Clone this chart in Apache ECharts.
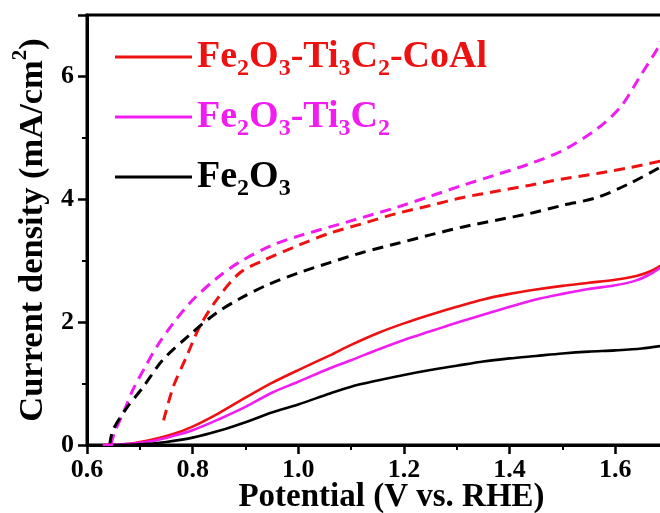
<!DOCTYPE html>
<html>
<head>
<meta charset="utf-8">
<script src="https://cdn.jsdelivr.net/npm/echarts@6/dist/echarts.min.js"></script>
<style>
    html, body { margin: 0; padding: 0; background: #fff; }
    #chartBox { width: 660px; height: 513px; }
</style>
</head>
<body>
<div id="chartBox"></div>
<script>
// potential (V vs. RHE) / current density (mA/cm2) pairs
var coalLight = [[0.63, 0], [0.68, 0.02], [0.72, 0.08], [0.76, 0.17], [0.8, 0.3], [0.85, 0.52], [0.9, 0.77], [0.95, 1.01],
    [1.0, 1.22], [1.06, 1.46], [1.1, 1.63], [1.15, 1.82], [1.2, 1.98], [1.25, 2.12], [1.3, 2.25], [1.35, 2.37],
    [1.4, 2.46], [1.45, 2.53], [1.5, 2.59], [1.55, 2.64], [1.6, 2.69], [1.64, 2.75], [1.67, 2.84], [1.7, 3.0]];
var ti3c2Light = [[0.63, 0], [0.68, 0.02], [0.72, 0.06], [0.76, 0.14], [0.8, 0.24], [0.85, 0.42], [0.9, 0.62], [0.95, 0.85],
    [1.0, 1.03], [1.06, 1.25], [1.1, 1.38], [1.15, 1.55], [1.2, 1.71], [1.25, 1.85], [1.3, 1.99], [1.35, 2.12],
    [1.4, 2.25], [1.45, 2.37], [1.5, 2.46], [1.55, 2.54], [1.6, 2.6], [1.64, 2.68], [1.67, 2.8], [1.7, 2.97]];
var fe2o3Light = [[0.65, 0], [0.7, 0.01], [0.75, 0.05], [0.8, 0.12], [0.85, 0.23], [0.9, 0.37], [0.95, 0.53], [1.0, 0.66],
    [1.06, 0.84], [1.1, 0.95], [1.15, 1.05], [1.2, 1.14], [1.25, 1.22], [1.3, 1.29], [1.35, 1.36], [1.4, 1.41],
    [1.45, 1.45], [1.5, 1.49], [1.55, 1.52], [1.6, 1.54], [1.65, 1.57], [1.7, 1.63]];
var coalDashed = [[0.745, 0.4], [0.763, 0.94], [0.788, 1.43], [0.813, 1.92], [0.845, 2.36], [0.889, 2.8], [0.933, 3.0],
    [1.0, 3.25], [1.06, 3.45], [1.12, 3.6], [1.187, 3.77], [1.25, 3.9], [1.312, 4.03], [1.375, 4.13], [1.439, 4.23],
    [1.5, 4.33], [1.566, 4.42], [1.63, 4.52], [1.7, 4.65]];
var ti3c2Dashed = [[0.645, 0], [0.652, 0.2], [0.67, 0.55], [0.687, 0.9], [0.71, 1.27], [0.732, 1.6], [0.763, 1.98],
    [0.8, 2.36], [0.845, 2.71], [0.889, 2.98], [0.95, 3.25], [1.0, 3.4], [1.06, 3.55], [1.12, 3.7], [1.187, 3.87],
    [1.25, 4.05], [1.312, 4.23], [1.375, 4.4], [1.439, 4.58], [1.502, 4.8], [1.566, 5.15], [1.61, 5.5],
    [1.647, 6.0], [1.685, 6.53], [1.7, 6.85]];
var fe2o3Dashed = [[0.643, 0], [0.649, 0.24], [0.675, 0.6], [0.706, 0.94], [0.743, 1.38], [0.794, 1.79], [0.845, 2.15],
    [0.889, 2.38], [0.94, 2.6], [1.0, 2.8], [1.06, 2.97], [1.12, 3.13], [1.187, 3.28], [1.25, 3.42], [1.312, 3.55],
    [1.375, 3.66], [1.439, 3.77], [1.5, 3.9], [1.566, 4.03], [1.628, 4.26], [1.685, 4.52], [1.7, 4.6]];

var names = ['Fe2O3-Ti3C2-CoAl', 'Fe2O3-Ti3C2', 'Fe2O3'];
var legendLabels = [
    '{n|Fe}{s|2}{n|O}{s|3}{n|-Ti}{s|3}{n|C}{s|2}{n|-CoAl}',
    '{n|Fe}{s|2}{n|O}{s|3}{n|-Ti}{s|3}{n|C}{s|2}',
    '{n|Fe}{s|2}{n|O}{s|3}'
];
var colors = ['#ee1111', '#f01cf0', '#000000'];

var FONT = '"Liberation Serif", "Times New Roman", serif';

/**
 * 光电流曲线
 */
function lsvChart() {
    var myChart = echarts.init(document.getElementById('chartBox'));

    var legends = names.map(function (name, i) {
        return {
            data: [name],
            left: 115,
            top: 33 + i * 60,
            padding: 0,
            itemWidth: 77,
            itemHeight: 3,
            icon: 'rect',
            formatter: function () { return legendLabels[i]; },
            selectedMode: false,
            textStyle: {
                color: colors[i],
                rich: {
                    n: {fontFamily: FONT, fontWeight: 'bold', fontSize: 38, lineHeight: 48, color: colors[i]},
                    s: {fontFamily: FONT, fontWeight: 'bold', fontSize: 24, lineHeight: 24, padding: [24, 0, 0, 0], color: colors[i]}
                }
            }
        };
    });

    function line(name, data, color, dashed) {
        return {
            name: name,
            type: 'line',
            data: data,
            smooth: 0.3,
            symbol: 'none',
            lineStyle: {color: color, width: dashed ? 3 : 2.6, type: dashed ? [11, 7] : 'solid'},
            itemStyle: {color: color},
            z: dashed ? 2 : 3
        };
    }

    var option = {
        animation: false,
        grid: {
            left: 87, right: -8, top: 15, bottom: 68,
            outerBoundsMode: 'none',
            containLabel: false,
            show: true, borderColor: '#000', borderWidth: 3
        },
        legend: legends,
        xAxis: {
            type: 'value',
            min: 0.6, max: 1.7, interval: 0.2,
            name: 'Potential (V vs. RHE)',
            nameLocation: 'middle',
            nameGap: 36,
            nameMoveOverlap: false,
            nameTextStyle: {fontFamily: FONT, fontWeight: 'bold', fontSize: 33, color: '#000', padding: [0, 0, 0, 28]},
            axisLine: {lineStyle: {color: '#000', width: 3}},
            axisTick: {length: 9, lineStyle: {width: 2.5}},
            minorTick: {show: true, splitNumber: 2, length: 5, lineStyle: {color: '#000', width: 2}},
            splitLine: {show: false},
            axisLabel: {
                margin: 12, fontFamily: FONT, fontWeight: 'bold', fontSize: 26, color: '#000',
                showMaxLabel: false,
                formatter: function (v) { return v.toFixed(1); }
            }
        },
        yAxis: {
            type: 'value',
            min: 0, max: 7, interval: 2,
            name: '{n|Current density (mA/cm}{p|2}{n|)}',
            nameLocation: 'middle',
            nameRotate: 90,
            nameGap: 32,
            nameMoveOverlap: false,
            nameTextStyle: {
                rich: {
                    n: {fontFamily: FONT, fontWeight: 'bold', fontSize: 34.5, lineHeight: 44, color: '#000'},
                    p: {fontFamily: FONT, fontWeight: 'bold', fontSize: 21, lineHeight: 21, padding: [0, 0, 24, 0], color: '#000'}
                }
            },
            axisLine: {lineStyle: {color: '#000', width: 3}},
            axisTick: {length: 9, lineStyle: {width: 2.5}},
            minorTick: {show: true, splitNumber: 2, length: 5, lineStyle: {color: '#000', width: 2}},
            splitLine: {show: false},
            axisLabel: {
                margin: 13, fontFamily: FONT, fontWeight: 'bold', fontSize: 26, color: '#000',
                showMaxLabel: false
            }
        },
        series: [
            line(names[0], coalLight, colors[0], false),
            line(names[1], ti3c2Light, colors[1], false),
            line(names[2], fe2o3Light, colors[2], false),
            line('CoAl dashed', coalDashed, colors[0], true),
            line('Ti3C2 dashed', ti3c2Dashed, colors[1], true),
            line('Fe2O3 dashed', fe2o3Dashed, colors[2], true)
        ]
    };
    myChart.setOption(option);
}

lsvChart();
</script>
</body>
</html>
